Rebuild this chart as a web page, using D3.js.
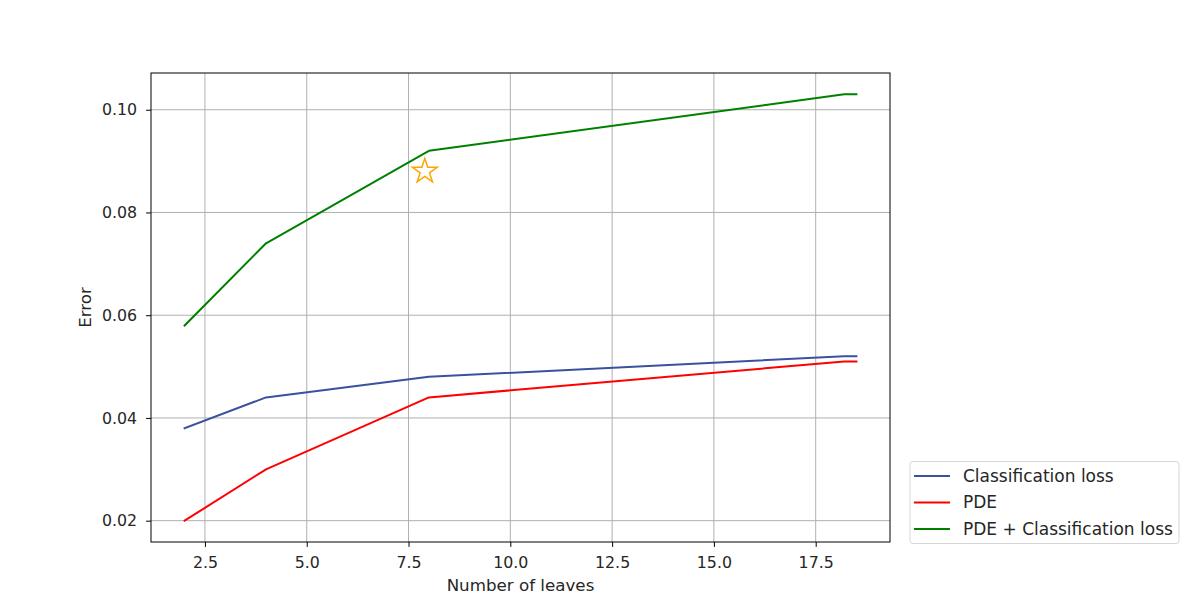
<!DOCTYPE html>
<html><head><meta charset="utf-8">
<script src="https://cdn.jsdelivr.net/npm/d3@7/dist/d3.min.js"></script>
<style>body{margin:0;background:#fff}svg text{font-family:"DejaVu Sans",sans-serif;fill:#262626}</style>
</head><body><svg id="c" width="1196" height="610"></svg>
<script>
const leaves = [2, 4, 8, 18.2, 18.5];
const classificationLoss = [0.038, 0.044, 0.048, 0.052, 0.052];
const pde = [0.020, 0.030, 0.044, 0.051, 0.051];
const pdeClassification = [0.058, 0.074, 0.092, 0.103, 0.103];
const starPoint = {x: 7.9, y: 0.088};
const xTicks = [2.5, 5.0, 7.5, 10.0, 12.5, 15.0, 17.5];
const yTicks = [0.02, 0.04, 0.06, 0.08, 0.10];
const seriesNames = ["Classification loss", "PDE", "PDE + Classification loss"];
const seriesColors = ["#3a51a0", "#ff0000", "#008000"];

const svg = d3.select("#c");
const L = 151, R = 890, T = 73, B = 542;
const x = d3.scaleLinear().domain([1.175, 19.325]).range([L, R]);
const y = d3.scaleLinear().domain([0.01585, 0.10715]).range([B, T]);

// grid
svg.append("g").selectAll("line").data(xTicks).join("line")
  .attr("x1", d => x(d)).attr("x2", d => x(d)).attr("y1", T).attr("y2", B)
  .attr("stroke", "#b0b0b0").attr("stroke-width", 1);
svg.append("g").selectAll("line").data(yTicks).join("line")
  .attr("x1", L).attr("x2", R).attr("y1", d => y(d)).attr("y2", d => y(d))
  .attr("stroke", "#b0b0b0").attr("stroke-width", 1);

// axes
const xAxis = svg.append("g").attr("transform", `translate(0,${B})`)
  .call(d3.axisBottom(x).tickValues(xTicks).tickFormat(d3.format(".1f")).tickSize(4.9).tickPadding(9.5));
const yAxis = svg.append("g").attr("transform", `translate(${L},0)`)
  .call(d3.axisLeft(y).tickValues(yTicks).tickFormat(d3.format(".2f")).tickSize(4.9).tickPadding(9));
[xAxis, yAxis].forEach(a => {
  a.select(".domain").remove();
  a.selectAll("text").style("font-size", "15.8px").style("font-family", "DejaVu Sans").attr("fill", "#262626");
  a.selectAll(".tick line").attr("stroke", "#000").attr("stroke-width", 1);
});

// lines
const series = [classificationLoss, pde, pdeClassification];
const line = d3.line().x(d => x(d[0])).y(d => y(d[1]));
series.forEach((s, i) => {
  svg.append("path").datum(leaves.map((l, j) => [l, s[j]]))
    .attr("d", line).attr("fill", "none").attr("stroke", seriesColors[i])
    .attr("stroke-width", 2).attr("stroke-linejoin", "round").attr("stroke-linecap", "square");
});

// star
svg.append("path")
  .attr("d", d3.symbol().type(d3.symbolStar).size(190)())
  .attr("transform", `translate(${x(starPoint.x)},${y(starPoint.y)})`)
  .attr("fill", "none").attr("stroke", "#ffa500").attr("stroke-width", 1.5);

// frame
svg.append("rect").attr("x", L).attr("y", T).attr("width", R - L).attr("height", B - T)
  .attr("fill", "none").attr("stroke", "#000").attr("stroke-width", 1);

// labels
svg.append("text").attr("x", (L + R) / 2).attr("y", 591).attr("text-anchor", "middle")
  .style("font-size", "16.7px").text("Number of leaves");
svg.append("text").attr("transform", `translate(91,${(T + B) / 2}) rotate(-90)`)
  .attr("text-anchor", "middle").style("font-size", "16.7px").text("Error");

// legend
const lg = svg.append("g");
lg.append("rect").attr("x", 910).attr("y", 461.5).attr("width", 269).attr("height", 82)
  .attr("rx", 3).attr("fill", "#fff").attr("stroke", "#d6d6d6").attr("stroke-width", 1);
seriesNames.forEach((n, i) => {
  const yy = 476 + i * 26.5;
  lg.append("line").attr("x1", 914).attr("x2", 950).attr("y1", yy).attr("y2", yy)
    .attr("stroke", seriesColors[i]).attr("stroke-width", 2);
  lg.append("text").attr("x", 963).attr("y", yy + 5.5).style("font-size", "17px").text(n);
});
</script></body></html>
